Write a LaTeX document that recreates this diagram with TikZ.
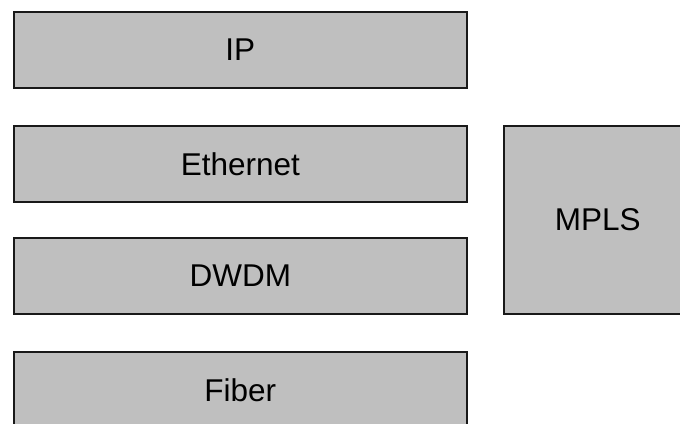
\documentclass[tikz,border=0pt]{standalone}
\usepackage{fontspec}
\setmainfont{Liberation Sans}
\begin{document}
\begin{tikzpicture}[x=1pt,y=-1pt,
  layer/.style={draw=black!90, fill=black!25, line width=1.7pt, anchor=north west,
    inner sep=0pt, font=\fontsize{31.5}{36}\selectfont},
  wide/.style={layer, minimum width=453pt, minimum height=76pt}]
  \useasboundingbox (0,0) rectangle (680,423);
  \node[wide] (ip) at (13,11) {IP};
  \node[wide] (eth) at (13,125) {Ethernet};
  \node[wide] (dwdm) at (13,237) {DWDM};
  \node[wide] (fiber) at (13,351) {Fiber};
  \node[layer, minimum width=188pt, minimum height=188pt] (mpls) at (503,125) {MPLS};
\end{tikzpicture}
\end{document}
